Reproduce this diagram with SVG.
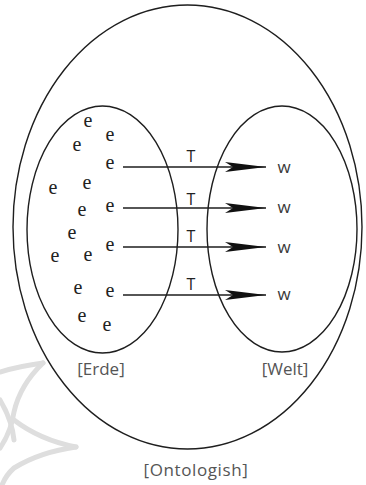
<svg xmlns="http://www.w3.org/2000/svg" width="366" height="485" viewBox="0 0 366 485">
<defs>
<style>
.ell{fill:none;stroke:#1e1e1e;stroke-width:1.4}
.conn{stroke:#1e1e1e;stroke-width:1.5;fill:none}
.e{font-family:"Liberation Serif",serif;font-size:20px;fill:#222;text-anchor:middle}
.t{font-family:"Open Sans",sans-serif;font-size:16px;fill:#222;text-anchor:middle}
.w{font-family:"Open Sans",sans-serif;font-size:17px;fill:#3a3a3a;text-anchor:middle}
.lbl{font-family:"Open Sans",sans-serif;font-size:17px;fill:#555;text-anchor:middle}
.wm{fill:none;stroke:#dedede;stroke-width:5;stroke-linecap:round}
</style>
<marker id="arr" markerUnits="userSpaceOnUse" viewBox="-42 -6 44 12" refX="0" refY="0" markerWidth="44" markerHeight="12" orient="auto">
<path d="M0,0 L-41,-5 L-33,0 L-41,5 Z" fill="#111"/>
</marker>
</defs>
<rect width="366" height="485" fill="#fff"/>
<g id="watermark">
<path class="wm" d="M43,363 Q20,366 0,372"/>
<path class="wm" d="M43,363 Q20,385 14,412 Q11,432 0,448"/>
<path class="wm" d="M0,400 Q12,420 14,440"/>
<path class="wm" d="M76,447 Q40,440 14,420"/>
<path class="wm" d="M76,447 Q40,452 14,468 Q6,475 2,485"/>
</g>
<g id="ontologish">
<ellipse class="ell" cx="187.5" cy="227" rx="174.5" ry="222"/>
<text class="lbl" x="196" y="476" letter-spacing="0.6">[Ontologish]</text>
</g>
<g id="erde">
<ellipse class="ell" cx="102.5" cy="229.5" rx="75.5" ry="123.5"/>
<text class="lbl" x="101" y="375">[Erde]</text>
<text class="e" x="88" y="127">e</text>
<text class="e" x="110" y="141">e</text>
<text class="e" x="77" y="151">e</text>
<text class="e" x="110" y="169">e</text>
<text class="e" x="53" y="194">e</text>
<text class="e" x="87" y="189">e</text>
<text class="e" x="82" y="216">e</text>
<text class="e" x="110" y="212">e</text>
<text class="e" x="72" y="239">e</text>
<text class="e" x="110" y="251">e</text>
<text class="e" x="55" y="262">e</text>
<text class="e" x="88" y="261">e</text>
<text class="e" x="78" y="294">e</text>
<text class="e" x="110" y="297">e</text>
<text class="e" x="82" y="322">e</text>
<text class="e" x="107" y="331">e</text>
</g>
<g id="welt">
<ellipse class="ell" cx="282" cy="229" rx="75" ry="123"/>
<text class="lbl" x="285" y="375">[Welt]</text>
<text class="w" x="284" y="173">w</text>
<text class="w" x="284" y="213">w</text>
<text class="w" x="284" y="253">w</text>
<text class="w" x="284" y="300">w</text>
</g>
<g id="connectors">
<line class="conn" x1="123" y1="167" x2="266" y2="167" marker-end="url(#arr)"/>
<line class="conn" x1="123" y1="208" x2="266" y2="208" marker-end="url(#arr)"/>
<line class="conn" x1="123" y1="247" x2="266" y2="247" marker-end="url(#arr)"/>
<line class="conn" x1="123" y1="295" x2="266" y2="295" marker-end="url(#arr)"/>
<text class="t" x="191" y="162">T</text>
<text class="t" x="191" y="205">T</text>
<text class="t" x="191" y="242">T</text>
<text class="t" x="191" y="290">T</text>
</g>
</svg>
